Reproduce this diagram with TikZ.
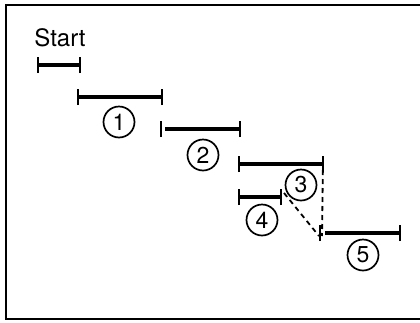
\documentclass[tikz,border=0pt]{standalone}
\usepackage{fontspec}
\setmainfont{TeX Gyre Heros}
\usetikzlibrary{arrows.meta}
\begin{document}
\begin{tikzpicture}[x=1pt,y=-1pt,
  barline/.style={line width=3.4pt},
  tickline/.style={line width=2.2pt},
  num/.style={circle,draw,line width=1.7pt,minimum size=31pt,inner sep=0pt,font=\fontsize{23}{23}\selectfont},
  conn/.style={line width=1.8pt,dash pattern=on 5pt off 4pt},
  lbl/.style={font=\fontsize{24}{24}\selectfont,inner sep=0pt}]
\useasboundingbox (0,0) rectangle (420,322);
% frame
\draw[line width=2.2pt] (422,5) -- (6,5) -- (6,319) -- (422,319);
% coordinates
\coordinate (s0) at (38,65);  \coordinate (e0) at (80,65);
\coordinate (s1) at (78,97);  \coordinate (e1) at (162,97);
\coordinate (s2) at (161,129);\coordinate (e2) at (240,129);
\coordinate (s3) at (239,164);\coordinate (e3) at (323,164);
\coordinate (s4) at (239,197);\coordinate (e4) at (281,197);
\coordinate (s5) at (320,233);\coordinate (e5) at (400,233);
% bars
\draw[barline] (s0) -- (e0);
\draw[barline] (s1) -- (e1);
\draw[barline] ([xshift=4pt]s2) -- (e2);
\draw[barline] (s3) -- (e3);
\draw[barline] (s4) -- (e4);
\draw[barline] ([xshift=5pt]s5) -- (e5);
% ticks
\foreach \p in {s0,e0,s1,e1,s2,e2,s3,e3,s4,e4,s5,e5}
  \draw[tickline] ([yshift=-8pt]\p) -- ([yshift=8pt]\p);
% label
\node[lbl] (start) at (60,38) {Start};
% numbers
\node[num] (n1) at (119,122) {1};
\node[num] (n2) at (203,155) {2};
\node[num] (n3) at (301,185) {3};
\node[num] (n4) at (262,220) {4};
\node[num] (n5) at (363,255) {5};
% dashed connectors
\draw[conn] ([yshift=3pt]e3) -- ([xshift=2pt,yshift=-3pt]s5);
\draw[conn] ([xshift=3pt,yshift=4pt]e4) -- ([xshift=-1pt,yshift=-3pt]s5);
\end{tikzpicture}
\end{document}
